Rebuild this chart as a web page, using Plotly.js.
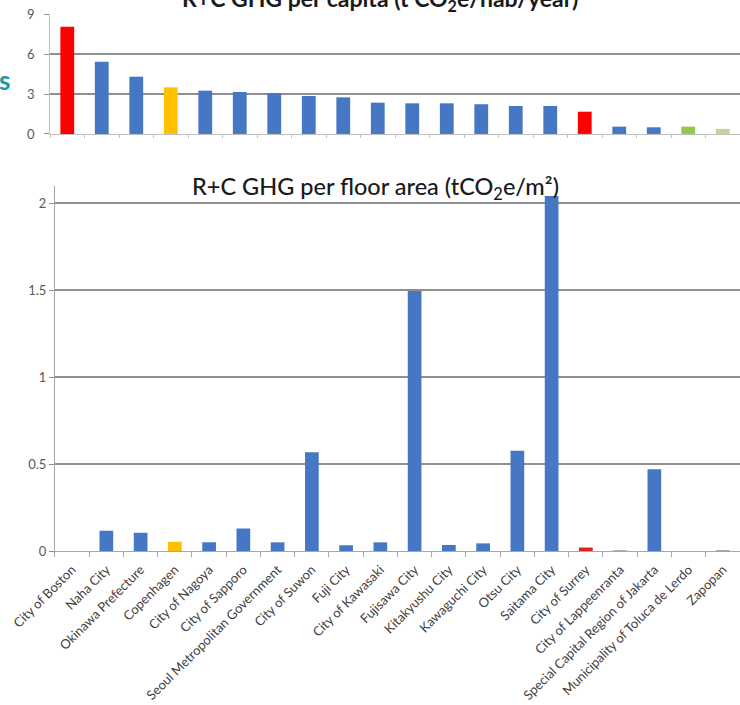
<!DOCTYPE html>
<html><head><meta charset="utf-8">
<script src="https://cdn.plot.ly/plotly-3.0.1.min.js"></script>
<style>html,body{margin:0;padding:0;background:#fff}#chart{width:740px;height:705px}</style>
</head><body><div id="chart"></div>
<script>
const cities = ["City of Boston","Naha City","Okinawa Prefecture","Copenhagen","City of Nagoya","City of Sapporo","Seoul Metropolitan Government","City of Suwon","Fuji City","City of Kawasaki","Fujisawa City","Kitakyushu City","Kawaguchi City","Otsu City","Saitama City","City of Surrey","City of Lappeenranta","Special Capital Region of Jakarta","Municipality of Toluca de Lerdo","Zapopan"];
const perCapita = [8.05,5.42,4.3,3.5,3.25,3.15,3.07,2.85,2.75,2.35,2.3,2.3,2.23,2.1,2.1,1.67,0.55,0.5,0.55,0.38];
const perFloorArea = [0,0.117,0.105,0.054,0.05,0.13,0.05,0.567,0.033,0.05,1.495,0.035,0.044,0.576,2.04,0.02,0.004,0.47,0,0.006];
const topTickVals = [0,3,6,9];
const bottomTickVals = [0,0.5,1,1.5,2];
const bottomTickText = ["0","0.5","1","1.5","2"];
const topTitle = "R+C GHG per capita (t CO<sub>2</sub>e/hab/year)";
const bottomTitle = "R+C GHG per floor area (tCO<sub>2</sub>e/m²)";

const BLUE = "#4677c4";
const topColorMap = {"City of Boston":"#ff0000","Copenhagen":"#ffc000","City of Surrey":"#ff0000","Municipality of Toluca de Lerdo":"#92c84f","Zapopan":"#c3d49a"};
const bottomColorMap = {"Copenhagen":"#ffc000","City of Surrey":"#e0201a","Zapopan":"#a9ad9a","City of Lappeenranta":"#8a8a8a"};
const topColors = cities.map(c => topColorMap[c] || BLUE);
const bottomColors = cities.map(c => bottomColorMap[c] || BLUE);

const FONT = "Lato, 'Open Sans', sans-serif";
const data = [
  {type:"bar", x:cities, y:perCapita, xaxis:"x", yaxis:"y", marker:{color:topColors}, hoverinfo:"x+y"},
  {type:"bar", x:cities, y:perFloorArea, xaxis:"x2", yaxis:"y2", marker:{color:bottomColors}, hoverinfo:"x+y"}
];
const gridC = "#8f8f8f";
const layout = {
  width:740, height:705, margin:{l:0,r:0,t:0,b:0,autoexpand:false},
  paper_bgcolor:"#fff", plot_bgcolor:"#fff", showlegend:false, bargap:0.6,
  font:{family:FONT, color:"#404040"},
  xaxis:{domain:[0.0676,1], anchor:"y", type:"category", range:[-0.5,19.5], showticklabels:false,
    ticks:"outside", tickson:"boundaries", ticklen:3, tickcolor:"#bfbfbf", showline:true, linecolor:"#bfbfbf", linewidth:1, showgrid:false, fixedrange:true},
  yaxis:{domain:[0.81,0.98], anchor:"x", range:[0,9], tickvals:topTickVals, showgrid:true, gridcolor:gridC, gridwidth:1.3,
    showline:true, linecolor:"#bfbfbf", ticks:"outside", ticklen:5, tickcolor:gridC, ticklabelposition:"outside", ticklabelstandoff:7,
    tickfont:{size:13, color:"#595959", family:FONT}, zeroline:false, automargin:false, fixedrange:true},
  xaxis2:{domain:[0.0743,1], anchor:"y2", type:"category", range:[-0.5,19.5], tickangle:-45,
    tickfont:{size:13, color:"#404040", family:FONT}, ticks:"outside", tickson:"boundaries", ticklen:5, tickcolor:"#a6a6a6",
    showline:true, linecolor:"#a6a6a6", linewidth:1, showgrid:false, ticklabelstandoff:5, automargin:false, fixedrange:true},
  yaxis2:{domain:[0.2184,0.7367], anchor:"x2", range:[0,2.1], tickvals:bottomTickVals, ticktext:bottomTickText, showgrid:true,
    gridcolor:gridC, gridwidth:1.3, showline:true, linecolor:"#a6a6a6", ticks:"outside", ticklen:5, tickcolor:gridC, ticklabelposition:"outside", ticklabelstandoff:0,
    tickfont:{size:13, color:"#595959", family:FONT}, zeroline:false, automargin:false, fixedrange:true},
  annotations:[
    {text:topTitle, xref:"paper", yref:"paper", x:380/740, y:1+1/705, xanchor:"center", yanchor:"middle", showarrow:false,
     font:{size:23, color:"#1a1a1a", family:FONT, weight:"bold"}},
    {text:bottomTitle, xref:"paper", yref:"paper", x:375/740, y:1-188/705, xanchor:"center", yanchor:"middle", showarrow:false,
     font:{size:23.5, color:"#1a1a1a", family:FONT, weight:500}},
    {text:"s", xref:"paper", yref:"paper", x:-0.004, y:1-80/705, xanchor:"left", yanchor:"middle", showarrow:false,
     font:{size:26, color:"#1d9aa3", family:FONT, weight:"bold"}}
  ]
};
Plotly.newPlot("chart", data, layout, {staticPlot:true});
</script></body></html>
